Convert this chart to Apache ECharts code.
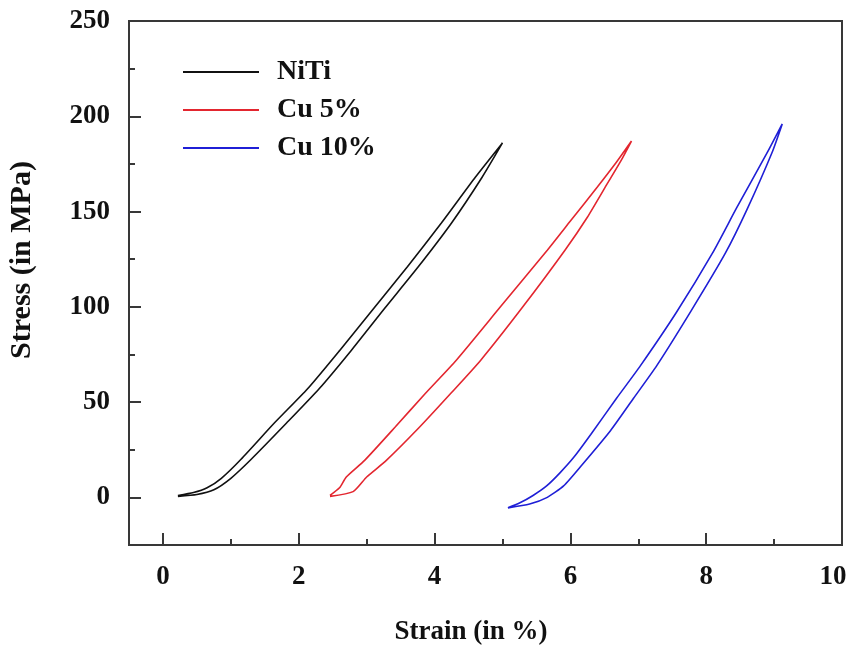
<!DOCTYPE html>
<html>
<head>
<meta charset="utf-8">
<script src="https://cdn.jsdelivr.net/npm/echarts@6/dist/echarts.min.js"></script>
<style>
  html, body { margin: 0; padding: 0; background: #fff; }
  #chart { width: 852px; height: 646px; }
</style>
</head>
<body>
<div id="chart"></div>
<script>
// Stress-strain hysteresis loops: loading branch then unloading branch back to the foot.
const seriesNames = ['NiTi', 'Cu 5%', 'Cu 10%'];

const nitiStrain = [0.22, 0.50, 0.75, 1.00, 1.30, 1.82, 2.30, 2.77, 3.26, 3.76, 4.25, 4.70, 5.00,
                    4.60, 4.10, 3.60, 3.10, 2.60, 2.13, 1.64, 1.15, 0.86, 0.65, 0.45, 0.22];
const nitiStress = [0.5, 1.5, 4, 10, 20, 39, 57, 77, 99, 121, 144, 168, 186,
                    168, 144, 121, 99, 77, 57, 39, 20, 10, 5, 2.5, 1];

const cu5Strain = [2.46, 2.80, 3.00, 3.29, 3.78, 4.25, 4.68, 5.30, 5.92, 6.25, 6.55, 6.75, 6.90,
                   6.68, 6.40, 6.00, 5.66, 4.97, 4.32, 3.86, 3.42, 2.97, 2.70, 2.60, 2.46];
const cu5Stress = [0.5, 3, 10.7, 19.4, 36.9, 55, 72, 100, 129.7, 147, 165, 177, 187,
                   176, 163, 145, 129.7, 100, 72, 54.4, 36.9, 19.4, 10.7, 5, 1];

const cu10Strain = [5.08, 5.40, 5.66, 5.90, 6.17, 6.59, 6.93, 7.27, 7.78, 8.28, 8.60, 8.97, 9.12,
                    8.90, 8.45, 8.09, 7.56, 7.03, 6.68, 6.30, 6.05, 5.85, 5.65, 5.45, 5.25, 5.08];
const cu10Stress = [-5.5, -3.5, 0, 6, 17, 35, 52, 69, 98, 128, 151, 181, 196,
                    181, 152, 128, 97, 69, 52, 33, 21, 13, 6, 1, -3, -5.5];

const xMajorTicks = [0, 2, 4, 6, 8, 10];
const xMinorTicks = [1, 3, 5, 7, 9];
const yMajorTicks = [0, 50, 100, 150, 200, 250];
const yMinorTicks = [25, 75, 125, 175, 225];

const colors = ['#111111', '#e3262f', '#1f1fd6'];

function pairs(xs, ys) { return xs.map((x, i) => [x, ys[i]]); }

const serif = '"Liberation Serif", "Times New Roman", serif';
const axisColor = '#383838';
const tickFont = { fontFamily: serif, fontWeight: 'bold', fontSize: 27, color: '#111' };

const chart = echarts.init(document.getElementById('chart'), null, { renderer: 'canvas' });

const xBase = { type: 'value', min: -0.5, max: 10, position: 'bottom', splitLine: { show: false } };
const yBase = { type: 'value', min: -25, max: 250, position: 'left', splitLine: { show: false } };

chart.setOption({
  animation: false,
  backgroundColor: '#ffffff',
  grid: {
    left: 129, right: 10, top: 21, bottom: 101,
    outerBoundsMode: 'none', containLabel: false,
    show: true, borderColor: axisColor, borderWidth: 2, backgroundColor: 'transparent'
  },
  legend: {
    orient: 'vertical',
    left: 178, top: 52,
    icon: 'rect',
    itemWidth: 76, itemHeight: 2, itemGap: 8,
    data: seriesNames,
    textStyle: { fontFamily: serif, fontWeight: 'bold', fontSize: 28, lineHeight: 30, color: '#111', padding: [0, 0, 0, 13] }
  },
  graphic: [
    {
      type: 'text', x: 471, y: 632,
      style: { text: 'Strain (in %)', align: 'center', verticalAlign: 'middle',
               font: 'bold 27px "Liberation Serif", serif', fill: '#111' }
    },
    {
      type: 'text', x: 22, y: 260, rotation: Math.PI / 2,
      style: { text: 'Stress (in MPa)', align: 'center', verticalAlign: 'middle',
               font: 'bold 30px "Liberation Serif", serif', fill: '#111' }
    }
  ],
  xAxis: [
    Object.assign({}, xBase, {
      axisLine: { show: true, onZero: false, lineStyle: { color: axisColor, width: 2 } },
      axisTick: { show: true, inside: true, length: 12, customValues: xMajorTicks, lineStyle: { color: axisColor, width: 2 } },
      axisLabel: Object.assign({
        show: true, margin: 19, customValues: xMajorTicks,
        // the last label sits a little left of its tick so it stays on the page
        formatter: v => (v === 10 ? '{edge|10}' : String(v)),
        rich: { edge: Object.assign({ padding: [0, 18, 0, 0] }, tickFont) }
      }, tickFont)
    }),
    Object.assign({}, xBase, {
      axisLine: { show: false, onZero: false },
      axisTick: { show: true, inside: true, length: 6, customValues: xMinorTicks, lineStyle: { color: axisColor, width: 2 } },
      axisLabel: { show: false }
    })
  ],
  yAxis: [
    Object.assign({}, yBase, {
      axisLine: { show: true, onZero: false, lineStyle: { color: axisColor, width: 2 } },
      axisTick: { show: true, inside: true, length: 12, customValues: yMajorTicks, lineStyle: { color: axisColor, width: 2 } },
      axisLabel: Object.assign({ show: true, margin: 19, customValues: yMajorTicks }, tickFont)
    }),
    Object.assign({}, yBase, {
      axisLine: { show: false, onZero: false },
      axisTick: { show: true, inside: true, length: 6, customValues: yMinorTicks, lineStyle: { color: axisColor, width: 2 } },
      axisLabel: { show: false }
    })
  ],
  series: [
    { name: seriesNames[0], data: pairs(nitiStrain, nitiStress), color: colors[0] },
    { name: seriesNames[1], data: pairs(cu5Strain, cu5Stress), color: colors[1] },
    { name: seriesNames[2], data: pairs(cu10Strain, cu10Stress), color: colors[2] }
  ].map(s => Object.assign({
    type: 'line', xAxisIndex: 0, yAxisIndex: 0,
    symbol: 'none', smooth: 0.2,
    lineStyle: { width: 1.6 }
  }, s))
});
</script>
</body>
</html>
